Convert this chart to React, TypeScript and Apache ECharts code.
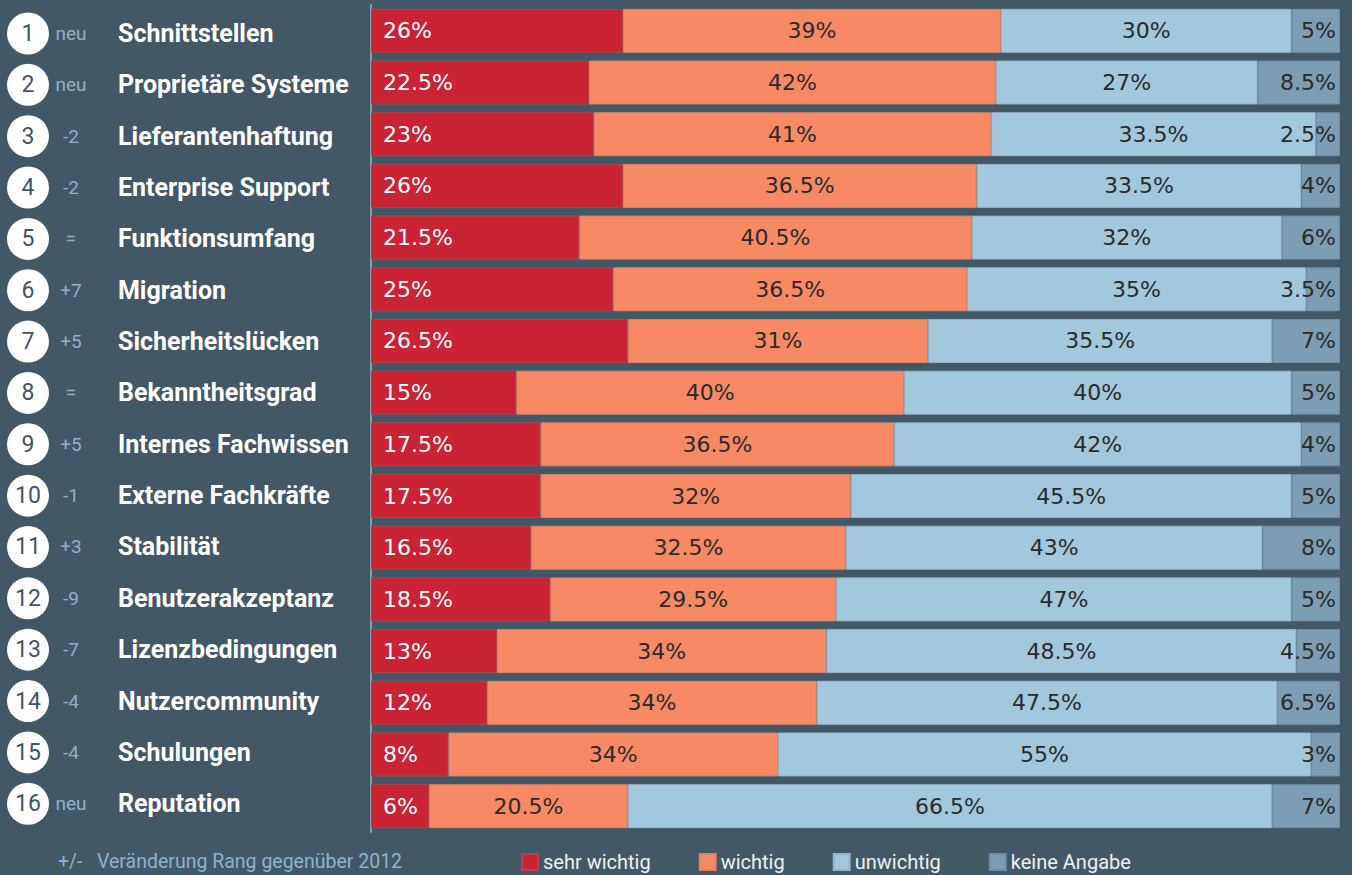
import React, { useEffect, useRef } from "react";
import * as echarts from "echarts";

const categories = [
  "Schnittstellen", "Proprietäre Systeme", "Lieferantenhaftung", "Enterprise Support",
  "Funktionsumfang", "Migration", "Sicherheitslücken", "Bekanntheitsgrad",
  "Internes Fachwissen", "Externe Fachkräfte", "Stabilität", "Benutzerakzeptanz",
  "Lizenzbedingungen", "Nutzercommunity", "Schulungen", "Reputation",
];
const ranks = ["1", "2", "3", "4", "5", "6", "7", "8", "9", "10", "11", "12", "13", "14", "15", "16"];
const changes = ["neu", "neu", "-2", "-2", "=", "+7", "+5", "=", "+5", "-1", "+3", "-9", "-7", "-4", "-4", "neu"];
const sehrWichtig = [26, 22.5, 23, 26, 21.5, 25, 26.5, 15, 17.5, 17.5, 16.5, 18.5, 13, 12, 8, 6];
const wichtig = [39, 42, 41, 36.5, 40.5, 36.5, 31, 40, 36.5, 32, 32.5, 29.5, 34, 34, 34, 20.5];
const unwichtig = [30, 27, 33.5, 33.5, 32, 35, 35.5, 40, 42, 45.5, 43, 47, 48.5, 47.5, 55, 66.5];
const keineAngabe = [5, 8.5, 2.5, 4, 6, 3.5, 7, 5, 4, 5, 8, 5, 4.5, 6.5, 3, 7];
const seriesNames = ["sehr wichtig", "wichtig", "unwichtig", "keine Angabe"];
const footnote = "+/-   Veränderung Rang gegenüber 2012";

const BG = "#425867";
const COLORS = ["#c92334", "#f78a64", "#a3c7dc", "#7c9db3"];
const BORDERS = ["#b4424a", "#d9836a", "#93b4c8", "#6f8ea3"];
const VALUE_FONT = "DejaVu Sans";
const DARK = "#2a2a2a";

export default function App() {
  const ref = useRef<HTMLDivElement>(null);
  useEffect(() => {
    if (!ref.current) return;
    const chart = echarts.init(ref.current, null, { renderer: "svg" });
    const fmt = (p: any) => `${p.value}%`;
    const labelBase = { show: true, fontFamily: VALUE_FONT, fontSize: 22, formatter: fmt };
    const datasets = [sehrWichtig, wichtig, unwichtig, keineAngabe];
    const labels = [
      { ...labelBase, position: "insideLeft", distance: 12, color: "#ffffff" },
      { ...labelBase, position: "inside", color: DARK },
      { ...labelBase, position: "inside", color: DARK },
      { ...labelBase, position: "insideRight", distance: 4, color: DARK },
    ];
    chart.setOption({
      animation: false,
      backgroundColor: BG,
      grid: [
        { left: 371, right: 12, top: 5, bottom: 43, containLabel: false },
        { left: 371, right: 12, top: 7.8, bottom: 45.6, containLabel: false },
      ],
      xAxis: [
        { type: "value", gridIndex: 0, min: 0, max: 100, show: false },
        { type: "value", gridIndex: 1, min: 0, max: 100, show: false },
      ],
      yAxis: [
        {
          type: "category",
          gridIndex: 0,
          data: categories,
          inverse: true,
          axisTick: { show: false },
          axisLabel: { show: false },
          axisLine: { show: true, lineStyle: { color: "#8e9ca6", width: 2 } },
          splitLine: { show: false },
        },
        {
          type: "category",
          gridIndex: 1,
          data: categories,
          inverse: true,
          axisTick: { show: false },
          axisLine: { show: false },
          splitLine: { show: false },
          axisLabel: {
            align: "left",
            margin: 364,
            formatter: (v: string, i: number) => `{c|${ranks[i]}}{d|${changes[i]}}{n|${v}}`,
            rich: {
              c: {
                width: 42, height: 42, backgroundColor: "#ffffff", borderRadius: 21,
                align: "center", verticalAlign: "middle", color: "#3f5566",
                fontFamily: "Roboto", fontSize: 23, lineHeight: 42,
              },
              d: {
                width: 44, align: "center", color: "#8fb2c9",
                fontFamily: "Roboto", fontSize: 19,
              },
              n: {
                color: "#ffffff", fontWeight: "bold", fontFamily: "Roboto",
                fontSize: 25, padding: [0, 0, 0, 25],
              },
            },
          },
        },
      ],
      legend: {
        data: seriesNames,
        left: 516,
        top: 847,
        icon: "rect",
        itemWidth: 16,
        itemHeight: 16,
        itemGap: 48,
        textStyle: { color: "#eef2f5", fontFamily: "Roboto", fontSize: 20 },
      },
      graphic: [
        {
          type: "text",
          left: 58,
          top: 851,
          style: { text: footnote, fill: "#8db3cd", font: "19.5px Roboto" },
        },
      ],
      series: datasets.map((d, i) => ({
        name: seriesNames[i],
        type: "bar",
        stack: "total",
        xAxisIndex: 0,
        yAxisIndex: 0,
        data: d,
        barWidth: 44,
        itemStyle: { color: COLORS[i], borderColor: BORDERS[i], borderWidth: 1 },
        label: labels[i],
      })),
    });
    return () => chart.dispose();
  }, []);
  return (
    <div
      ref={ref}
      style={{ position: "fixed", left: 0, top: 0, width: 1352, height: 875, background: BG }}
    />
  );
}
